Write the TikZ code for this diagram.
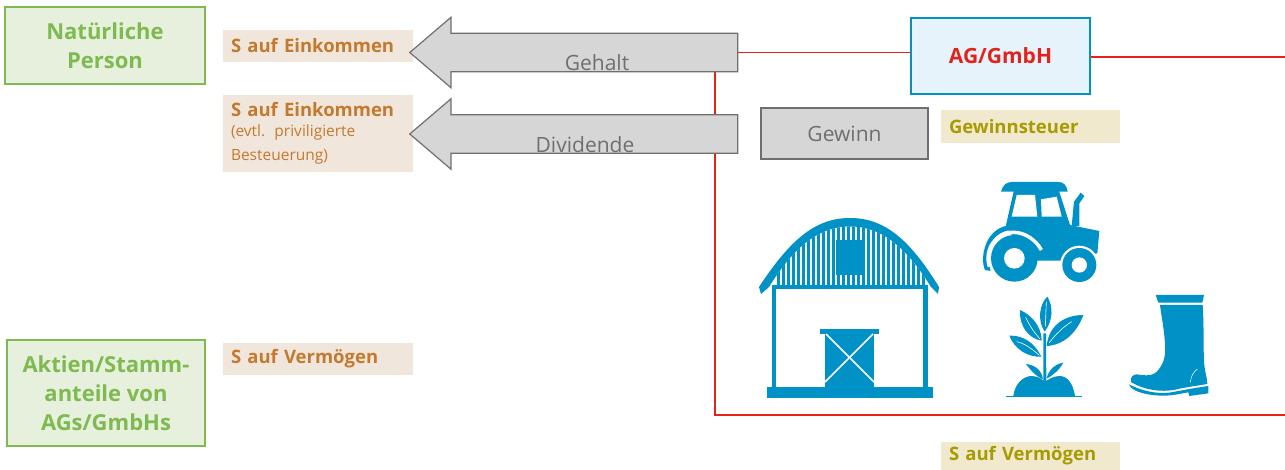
\documentclass[tikz,border=0pt]{standalone}
\usepackage{fontspec}
\setmainfont{Open Sans}
\usetikzlibrary{shapes.arrows}
\definecolor{gruen}{HTML}{7FBA50}
\definecolor{gruenbg}{HTML}{E6F0DD}
\definecolor{braun}{HTML}{C47A2E}
\definecolor{braunbg}{HTML}{F1E6DB}
\definecolor{oliv}{HTML}{A89B00}
\definecolor{olivbg}{HTML}{F0E9CD}
\definecolor{blau}{HTML}{0091C6}
\definecolor{blaubg}{HTML}{E6F3FA}
\definecolor{rot}{HTML}{E3231B}
\definecolor{grau}{HTML}{D6D6D6}
\definecolor{graurand}{HTML}{6F6F6F}
\tikzset{
	person/.style={draw=gruen,line width=1.2pt,fill=gruenbg,text=gruen,inner sep=0pt,align=center,font=\fontsize{22}{29}\selectfont\bfseries},
	steuerS/.style={fill=braunbg,text=braun,inner sep=0pt,minimum width=190pt,text width=174pt,align=left,font=\fontsize{18.5}{24}\selectfont\bfseries},
	steuerG/.style={fill=olivbg,text=oliv,inner sep=0pt,minimum width=179pt,text width=163pt,align=left,font=\fontsize{18.5}{24}\selectfont\bfseries},
	pfeil/.style={single arrow,draw=graurand,line width=1.2pt,fill=grau,text=graurand,shape border rotate=180,minimum height=328pt,minimum width=69pt,single arrow head extend=16pt,single arrow tip angle=81,inner xsep=0pt,inner ysep=0pt,text height=37pt,font=\fontsize{21}{25}\selectfont},
	linie/.style={draw=rot,line width=1.1pt},
	icon/.style={fill=blau,draw=none},
	iconweiss/.style={fill=white,draw=none}
}
\begin{document}
\begin{tikzpicture}[x=1pt,y=-1pt]
		\useasboundingbox (0,0) rectangle (1285,470);
		
		%lines
		\coordinate (stamm) at (715,71);
		\coordinate (ecke) at (715,415);
		\coordinate (rechtsunten) at (1285,415);
		\coordinate (rechtsoben) at (1285,57);
		\draw[linie] (stamm) -- (ecke) -- (rechtsunten);
		
		%left column
		\node[person,minimum width=200pt,minimum height=77pt] (natuerlich) at (105,45.5) {Natürliche\\Person};
		\node[person,minimum width=198pt,minimum height=106pt] (aktien) at (106,393) {Aktien/Stamm-\\anteile von\\AGs/GmbHs};
		
		%taxes
		\node[steuerS,minimum height=32pt] (einkommen) at (318,46) {S auf Einkommen};
		\node[steuerS,minimum height=77pt] (einkommenb) at (318,133.5) {S auf Einkommen\\[-3pt]{\fontsize{15.5}{23}\selectfont\mdseries (evtl. priviligierte\\Besteuerung)}};
		\node[steuerS,minimum height=32pt] (vermoegen) at (318,359) {S auf Vermögen};
		\node[steuerG,minimum height=33pt] (gewinnsteuer) at (1030.5,126.5) {Gewinnsteuer};
		\node[steuerG,minimum height=29pt] (vermoegenb) at (1030.5,456) {S auf Vermögen};
		
		%arrows
		\node[pfeil] (gehalt) at (585,52.5) {\hspace*{24pt}Gehalt};
		\node[pfeil] (dividende) at (585,134) {Dividende};
		\node[draw=graurand,line width=1.2pt,fill=grau,text=graurand,minimum width=167pt,minimum height=51pt,inner sep=0pt,font=\fontsize{21}{25}\selectfont] (gewinn) at (844.5,133.5) {Gewinn};
		\node[draw=blau,line width=1.2pt,fill=blaubg,text=rot,minimum width=179pt,minimum height=76pt,inner sep=0pt,font=\fontsize{21}{25}\selectfont\bfseries] (ag) at (1000.5,56) {AG/GmbH};
		\draw[linie] (gehalt.tail) -- (ag.west |- gehalt.tail);
		\draw[linie] (ag.east |- rechtsoben) -- (rechtsoben);
		
		%barn
		\fill[icon] (759,287) .. controls (790,240) and (815,218) .. (850,218) .. controls (885,218) and (910,240) .. (939,287) -- (938,294) -- (931,287) .. controls (905,245) and (880,226.5) .. (850,226.5) .. controls (820,226.5) and (795,245) .. (769,287) -- (761,294) -- cycle;
		\begin{scope}
			\clip (769,287) .. controls (795,245) and (820,226.5) .. (850,226.5) .. controls (880,226.5) and (905,245) .. (931,287) -- cycle;
			\foreach \x in {0,...,29} {
				\fill[icon] ({777+5*\x},220) rectangle ({780+5*\x},287);
			}
		\end{scope}
		\fill[icon] (836,240.5) rectangle (864,275);
		\fill[icon] (771.5,285) rectangle (927.5,289.5);
		\fill[icon] (771.5,289) rectangle (776,388);
		\fill[icon] (923,289) rectangle (927.5,388);
		\fill[icon] (767,387) rectangle (933,397.5);
		\fill[icon] (820,329) rectangle (879,334);
		\fill[icon] (825,334) rectangle (874,388);
		\draw[white,line width=1.6pt] (826,334) -- (874,382);
		\draw[white,line width=1.6pt] (873,334) -- (825,382);
		
		%tractor, plant
		\begin{scope}[shift={(960,170)},scale=1/3]
			\fill[icon] (123,65) .. controls (128,45) and (140,36) .. (155,36) -- (295,36) .. controls (310,36) and (320,45) .. (323,65) -- cycle;
			\fill[icon] (162,60) -- (296,60) -- (330,165) -- (418,183) -- (412,250) -- (300,272) -- (200,272) -- (138,165) -- cycle;
			\fill[icon] (335,168) -- (342,95) -- (362,68) -- (373,78) -- (358,100) -- (358,168) -- cycle;
			\fill[iconweiss] (170,75) -- (225,75) -- (232,140) -- (155,140) -- cycle;
			\fill[iconweiss] (243,88) -- (290,80) -- (305,140) -- (245,140) -- cycle;
			\fill[icon] (75,300) .. controls (58,265) and (75,165) .. (160,165) .. controls (205,165) and (245,195) .. (260,237) -- (240,241) .. controls (225,205) and (195,180) .. (160,180) .. controls (105,180) and (70,230) .. (92,303) -- cycle;
			\draw[white,line width=3.5pt] (88,290) .. controls (72,235) and (110,187) .. (160,187) .. controls (195,187) and (228,210) .. (244,240);
			\fill[icon] (163,265) circle (70);
			\fill[iconweiss] (163,265) circle (31);
			\fill[iconweiss] (358,285) circle (58);
			\fill[icon] (358,285) circle (51);
			\fill[iconweiss] (358,285) circle (23);
			
			\fill[icon] (160,678) .. controls (165,640) and (190,618) .. (215,618) .. controls (235,618) and (250,630) .. (255,636) .. controls (262,630) and (280,618) .. (298,618) .. controls (325,618) and (340,645) .. (345,678) -- cycle;
			\fill[icon] (138,677) rectangle (367,682);
			\fill[icon] (250,490) -- (258,490) -- (259,636) -- (250,636) -- cycle;
			\fill[icon] (262,380) .. controls (240,400) and (230,450) .. (254,485) .. controls (280,450) and (280,410) .. (262,380) -- cycle;
			\fill[icon] (180,420) .. controls (178,470) and (205,505) .. (245,512) .. controls (245,470) and (215,435) .. (180,420) -- cycle;
			\fill[icon] (370,435) .. controls (310,435) and (265,470) .. (260,528) .. controls (310,525) and (350,490) .. (370,435) -- cycle;
			\fill[icon] (148,497) .. controls (165,540) and (205,562) .. (244,560) .. controls (225,520) and (190,495) .. (148,497) -- cycle;
			\fill[icon] (198,582) .. controls (215,605) and (230,620) .. (249,628) .. controls (245,600) and (225,585) .. (198,582) -- cycle;
			\fill[icon] (310,578) .. controls (285,582) and (265,600) .. (260,626) .. controls (280,615) and (298,600) .. (310,578) -- cycle;
			\draw[white,line width=.6pt] (259,395) -- (256,470);
			\draw[white,line width=.6pt] (197,442) .. controls (210,470) and (225,490) .. (240,507);
			\draw[white,line width=.6pt] (335,455) .. controls (310,470) and (285,495) .. (268,518);
			\draw[white,line width=.6pt] (170,515) .. controls (195,520) and (220,540) .. (238,556);
		\end{scope}
		
		%boot
		\begin{scope}[shift={(1120,285)},scale=1/3]
			\fill[icon] (107,30) -- (252,30) -- (247,53) -- (115,53) -- cycle;
			\fill[icon] (120,60) -- (248,60) .. controls (252,120) and (250,190) .. (252,230) .. controls (254,260) and (262,280) .. (262,297) .. controls (225,303) and (190,308) .. (165,314) .. controls (125,322) and (75,316) .. (34,292) .. controls (28,280) and (38,268) .. (50,268) .. controls (75,272) and (100,275) .. (115,255) .. controls (135,230) and (137,205) .. (135,175) .. controls (132,130) and (125,100) .. (120,60) -- cycle;
			\fill[icon] (27,298) .. controls (35,325) and (100,332) .. (130,332) .. controls (160,332) and (185,325) .. (205,322) -- (208,333) -- (265,325) -- (265,303) .. controls (230,308) and (190,315) .. (165,320) .. controls (130,328) and (80,325) .. (27,298) -- cycle;
			\draw[white,line width=.5pt] (211,292) .. controls (213,272) and (220,262) .. (232,252);
		\end{scope}
\end{tikzpicture}
\end{document}
